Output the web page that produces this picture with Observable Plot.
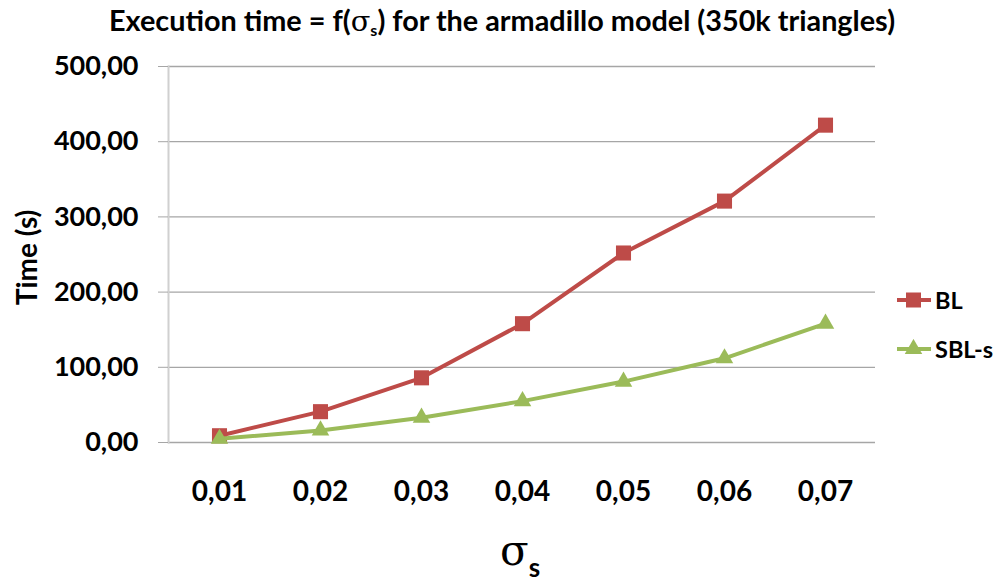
<!DOCTYPE html>
<html><head><meta charset="utf-8">
<script src="https://cdn.jsdelivr.net/npm/d3@7"></script>
<script src="https://cdn.jsdelivr.net/npm/@observablehq/plot@0.6"></script>
<style>
body{margin:0;background:#fff;}
#wrap{position:relative;width:1004px;height:584px;font-family:Lato,"DejaVu Sans",sans-serif;font-weight:700;color:#000;overflow:hidden;}
#title{position:absolute;left:0;top:0;width:1004px;height:40px;text-align:center;font-size:28.8px;line-height:40px;white-space:nowrap;}
#title .sig{font-family:"DejaVu Serif",serif;font-weight:400;}
#title sub{font-size:16px;vertical-align:-5px;line-height:0;}
#chart{position:absolute;left:0;top:40px;}
#xtitle{position:absolute;left:500px;top:526px;white-space:nowrap;}
#xtitle .sig{font-family:"DejaVu Serif",serif;font-weight:400;font-size:42px;}
#xtitle .sub{font-size:26px;position:relative;top:12px;}
.leg{position:absolute;left:896px;height:30px;display:flex;align-items:center;font-size:23.5px;}
.leg svg{margin-right:3px;}
</style></head>
<body>
<div id="wrap">
  <div id="title">Execution time = f(<span class="sig">σ</span><sub>s</sub>) for the armadillo model (350k triangles)</div>
  <div id="chart"></div>
  <div id="xtitle"><span class="sig">σ</span><span class="sub">s</span></div>
  <div id="legend"></div>
</div>
<script>
const sigmaLabels = ["0,01","0,02","0,03","0,04","0,05","0,06","0,07"];
const blTimes  = [9, 41, 86, 158, 252, 321, 422];
const sblTimes = [5, 16, 33, 55, 81, 112, 158];
const yTicks = [0, 100, 200, 300, 400, 500];
const seriesNames = ["BL", "SBL-s"];
const seriesColors = ["#BE4B48", "#9BBB59"];

const rows = sigmaLabels.map((s, i) => ({s, bl: blTimes[i], sbl: sblTimes[i]}));
const fmt = d => d.toFixed(2).replace(".", ",");

const chart = Plot.plot({
  width: 1004, height: 544,
  marginTop: 26, marginBottom: 142, marginLeft: 168, marginRight: 129,
  style: {fontFamily: "Lato, 'DejaVu Sans', sans-serif", fontWeight: 700, color: "#000", background: "#fff"},
  x: {type: "point", domain: sigmaLabels, padding: 0.5},
  y: {domain: [0, 500]},
  marks: [
    Plot.ruleY(yTicks, {stroke: "#a6a6a6", strokeWidth: 1.3}),
    Plot.frame({anchor: "left", stroke: "#d0d0d0", strokeWidth: 2}),
    Plot.axisY({ticks: yTicks, tickSize: 10, tickPadding: 20, tickFormat: fmt, fontSize: 27, stroke: "#a6a6a6", fill: "#000", label: null}),
    Plot.axisX({tickSize: 0, tickPadding: 39, fontSize: 28, fill: "#000", label: null}),
    Plot.text(["Time (s)"], {frameAnchor: "left", textAnchor: "middle", rotate: -90, dx: -140, dy: 3, fontSize: 28, fill: "#000"}),
    Plot.line(rows, {x: "s", y: "bl", stroke: seriesColors[0], strokeWidth: 4}),
    Plot.dot(rows, {x: "s", y: "bl", symbol: "square", r: 8.5, fill: seriesColors[0], stroke: null}),
    Plot.line(rows, {x: "s", y: "sbl", stroke: seriesColors[1], strokeWidth: 4}),
    Plot.dot(rows, {x: "s", y: "sbl", symbol: "triangle", r: 6.5, fill: seriesColors[1], stroke: null})
  ]
});
document.getElementById("chart").appendChild(chart);

// legend
const legend = document.getElementById("legend");
const legTops = [285, 334];
seriesNames.forEach((name, i) => {
  const row = document.createElement("div");
  row.className = "leg";
  row.style.top = legTops[i] + "px";
  const marker = i === 0
    ? `<rect x="10" y="2.5" width="15" height="15" fill="${seriesColors[i]}"/>`
    : `<path d="${d3.symbol(d3.symbolTriangle, Math.PI*6.5*6.5)()}" transform="translate(17.5,10)" fill="${seriesColors[i]}"/>`;
  row.innerHTML = `<svg width="36" height="20"><line x1="1" x2="35" y1="10" y2="10" stroke="${seriesColors[i]}" stroke-width="4"/>${marker}</svg><span>${name}</span>`;
  legend.appendChild(row);
});
</script>
</body></html>
